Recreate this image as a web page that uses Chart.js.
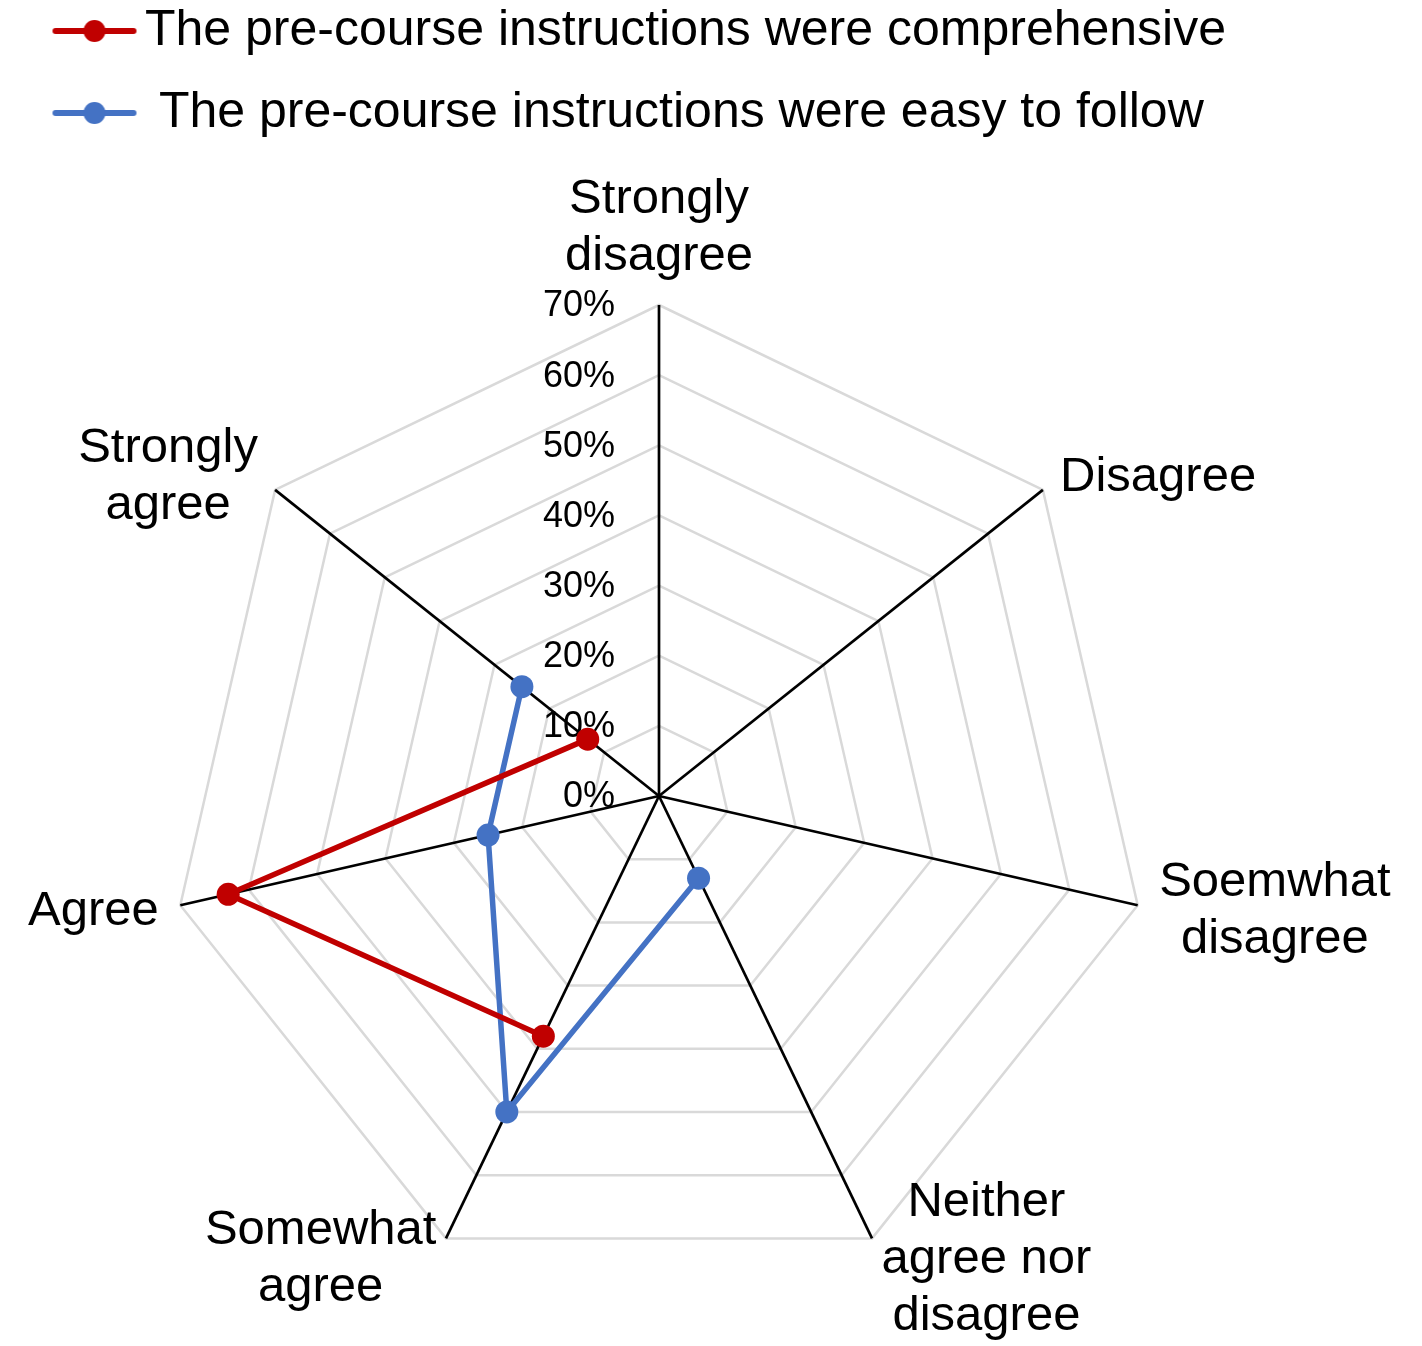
<!DOCTYPE html>
<html>
<head>
<meta charset="utf-8">
<title>Pre-course instructions</title>
<script src="https://cdn.jsdelivr.net/npm/chart.js@4/dist/chart.umd.min.js"></script>
<style>
  html, body { margin: 0; padding: 0; background: #fff; }
  #wrap { width: 1422px; height: 1346px; position: relative; }
</style>
</head>
<body>
<div id="wrap"><canvas id="radarChart"></canvas></div>
<script>
// answers on the agreement scale, clockwise from the top
const categories = [
  ['Strongly', 'disagree'],
  ['Disagree'],
  ['Soemwhat', 'disagree'],
  ['Neither', 'agree nor', 'disagree'],
  ['Somewhat', 'agree'],
  ['Agree'],
  ['Strongly', 'agree'],
];
const seriesNames = [
  'The pre-course instructions were comprehensive',
  ' The pre-course instructions were easy to follow',
];
// percent of answers, null where nobody answered
const comprehensive = [null, null, null, null, 38, 63, 13];
const easyToFollow = [null, null, null, 13, 50, 25, 25];
const tickMax = 70;
const tickStep = 10;

const FONT = '"Liberation Sans", Arial, sans-serif';
const RED = '#C00000';
const BLUE = '#4472C4';
Chart.defaults.font.family = FONT;
Chart.defaults.color = '#000';

// little line-with-dot picture for the legend
function legendMark(color) {
  const c = document.createElement('canvas');
  c.width = 86;
  c.height = 24;
  const g = c.getContext('2d');
  g.strokeStyle = color;
  g.lineWidth = 6;
  g.lineCap = 'round';
  g.beginPath();
  g.moveTo(4, 12);
  g.lineTo(82, 12);
  g.stroke();
  g.fillStyle = color;
  g.beginPath();
  g.arc(43, 12, 11, 0, Math.PI * 2);
  g.fill();
  return c;
}
const marks = [legendMark(RED), legendMark(BLUE)];

// percent labels left of the top spoke
const tickLabels = {
  id: 'tickLabels',
  beforeDatasetsDraw(chart) {
    const r = chart.scales.r;
    const ctx = chart.ctx;
    ctx.save();
    ctx.font = '36px ' + FONT;
    ctx.fillStyle = '#000';
    ctx.textAlign = 'right';
    ctx.textBaseline = 'middle';
    r.ticks.forEach(t => {
      const y = r.yCenter - r.getDistanceFromCenterForValue(t.value);
      ctx.fillText(t.label, r.xCenter - 44, y + 1.5);
    });
    ctx.restore();
  }
};

// category names beyond the spoke ends, set the way the spreadsheet does it
const spokeLabels = {
  id: 'spokeLabels',
  afterDraw(chart) {
    const r = chart.scales.r;
    const ctx = chart.ctx;
    const lineH = 57;
    ctx.save();
    ctx.font = '49px ' + FONT;
    ctx.fillStyle = '#000';
    ctx.textAlign = 'center';
    ctx.textBaseline = 'middle';
    chart.data.labels.forEach((lines, i) => {
      const p = r.getPointPosition(i, r.drawingArea + 22);
      const dx = p.x - r.xCenter;
      const dy = p.y - r.yCenter;
      const w = Math.max(...lines.map(l => ctx.measureText(l).width));
      const h = lines.length * lineH;
      let cx, top;
      if (Math.abs(dx) < 1) {
        cx = p.x;
        top = dy < 0 ? p.y - h + 2 : p.y;
      } else {
        cx = dx > 0 ? p.x + w / 2 : p.x - w / 2;
        top = p.y - h / 2 + 1;
      }
      lines.forEach((l, k) => ctx.fillText(l, cx, top + lineH * (k + 0.5)));
    });
    ctx.restore();
  }
};

new Chart(document.getElementById('radarChart'), {
  type: 'radar',
  data: {
    labels: categories,
    datasets: [{
      label: seriesNames[0],
      data: comprehensive,
      borderColor: RED,
      backgroundColor: RED,
      pointBackgroundColor: RED,
    }, {
      label: seriesNames[1],
      data: easyToFollow,
      borderColor: BLUE,
      backgroundColor: BLUE,
      pointBackgroundColor: BLUE,
    }],
  },
  options: {
    responsive: true,
    maintainAspectRatio: false,
    animation: false,
    layout: { padding: { top: -26, left: 37, right: 0, bottom: 0 } },
    elements: {
      line: { borderWidth: 5.5, fill: false, tension: 0 },
      point: { radius: 11.5, hoverRadius: 11.5, borderWidth: 0 },
    },
    datasets: { radar: { spanGaps: false, clip: false } },
    scales: {
      r: {
        min: 0,
        max: tickMax,
        ticks: { stepSize: tickStep, display: false, callback: v => v + '%' },
        pointLabels: { display: false },
        grid: { color: '#D9D9D9', lineWidth: 2.5 },
        angleLines: { color: '#000', lineWidth: 2.7 },
        afterFit(scale) {
          // place the web where the picture has it
          scale.xCenter = 659;
          scale.yCenter = 796;
          scale.drawingArea = 491;
        },
      },
    },
    plugins: {
      tooltip: { enabled: false },
      legend: {
        position: 'top',
        align: 'start',
        labels: {
          usePointStyle: true,
          pointStyleWidth: 51,
          padding: 32,
          color: '#000',
          font: { size: 50 },
          generateLabels(chart) {
            const items = Chart.defaults.plugins.legend.labels.generateLabels(chart);
            items.forEach((it, i) => { it.pointStyle = marks[i]; });
            return items;
          },
        },
      },
    },
  },
  plugins: [tickLabels, spokeLabels],
});
</script>
</body>
</html>
